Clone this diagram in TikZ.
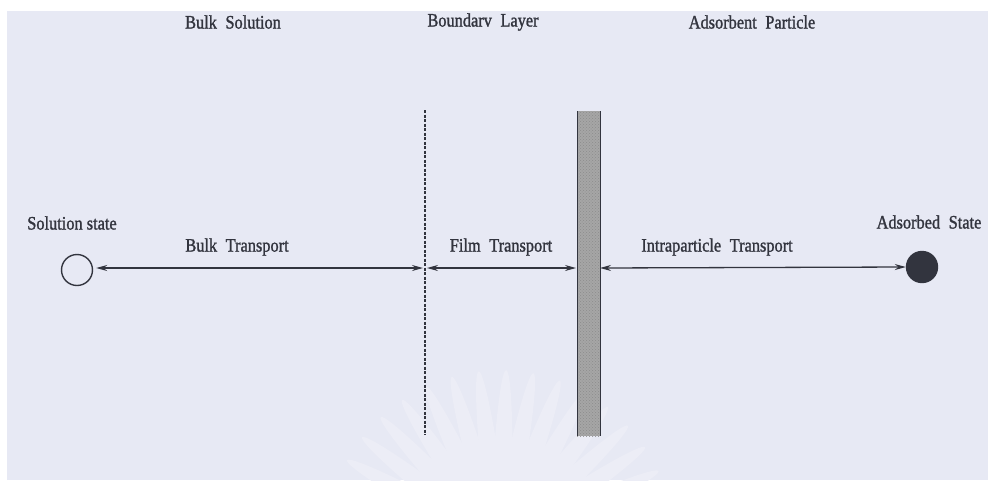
\documentclass[tikz,border=0pt]{standalone}
\usepackage{fontspec}
\setmainfont{Liberation Serif}[FakeBold=1.3, FakeStretch=0.86]
\usetikzlibrary{arrows.meta,patterns}
\definecolor{paper}{RGB}{231,233,244}
\definecolor{ink}{RGB}{50,52,62}
\definecolor{petal}{RGB}{236,237,246}
\tikzset{
  lbl/.style={font=\fontsize{19}{21}\selectfont, text=ink, inner sep=0pt},
  flow/.style={draw=ink, line width=1.3pt, arrows={Stealth[length=11pt,width=6pt]-Stealth[length=11pt,width=6pt]}},
  state/.style={circle, minimum size=31pt, inner sep=0pt, draw=ink, line width=1.4pt},
}
\newcommand{\wsp}{\hspace{0.45em}}
\begin{document}
\begin{tikzpicture}[x=1pt,y=-1pt]
  % page and tinted paper
  \fill[white] (0,0) rectangle (988,480);
  \fill[paper] (7,11) rectangle (988,480);
  \useasboundingbox (0,0) rectangle (988,480);

  % faint seal in the lower middle
  \begin{scope}
    \clip (7,11) rectangle (988,480);
    \foreach \a in {196,205,...,344}
      \fill[petal, rotate around={\a:(500,545)}] (500,545) ellipse [x radius=175, y radius=11];
  \end{scope}

  % boundary between bulk solution and film
  \draw[ink, line width=1.6pt, dash pattern=on 3pt off 1.5pt] (425,110) coordinate (dtop) -- (425,435) coordinate (dbot);
  \coordinate (dash) at (425,268);

  % particle surface
  \fill[gray!70] (577,111) rectangle (600,436);
  \fill[pattern=crosshatch dots, pattern color=black!45] (577,111) rectangle (600,436);
  \draw[ink, line width=0.9pt] (577,111) -- (577,436) (600,111) -- (600,436);
  \coordinate (surfL) at (577,268);
  \coordinate (surfR) at (600,268);

  % regions
  \node[lbl] (bulk) at (233,22) {Bulk\wsp Solution};
  \node[lbl] (bound) at (483,22) {Boundarv\wsp Layer};
  \node[lbl] (part) at (752,22) {Adsorbent\wsp Particle};

  % states
  \node[state] (sol) at (77,270) {};
  \node[state, fill=ink] (ads) at (922,267) {};
  \node[lbl] (soltxt) at (72,223) {Solution state};
  \node[lbl] (adstxt) at (929,222) {Adsorbed\wsp State};

  % transport steps
  \draw[flow] ([xshift=3pt,yshift=2pt]sol.east) -- ([xshift=-2pt]dash);
  \draw[flow] ([xshift=2pt]dash) -- ([xshift=-1pt]surfL);
  \draw[flow] (surfR) -- (ads.west);
  \node[lbl] (bt) at (237,247) {Bulk\wsp Transport};
  \node[lbl] (ft) at (501,247) {Film\wsp Transport};
  \node[lbl] (it) at (717,247) {Intraparticle\wsp Transport};
\end{tikzpicture}
\end{document}
